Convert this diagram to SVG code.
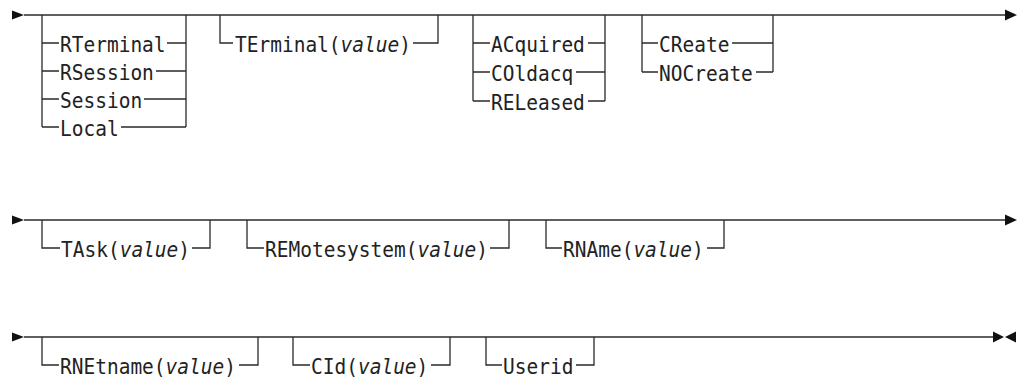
<svg xmlns="http://www.w3.org/2000/svg" width="1019" height="382" viewBox="0 0 1019 382">
<style>
.t{font-family:"DejaVu Sans Mono","Liberation Mono",monospace;font-size:19.5px;fill:#222}
.v{font-style:italic}
.c{stroke:#2a2a2a;stroke-width:1.3;fill:none}
.a{fill:#111}
</style>
<rect width="1019" height="382" fill="#fff"/>
<g id="connectors">
<path class="c" d="M24 15H1006"/>
<path class="c" d="M42 15V127M186 15V127"/>
<path class="c" d="M42 43H59M167 43H186M42 71H59M156 71H186M42 99H59M144 99H186M42 127H59M121 127H186"/>
<path class="c" d="M220 15V43H233M413 43H438V15"/>
<path class="c" d="M473 15V101M605 15V101M473 43H490M588 43H605M473 72H490M576 72H605M473 101H490M588 101H605"/>
<path class="c" d="M642 15V72M773 15V72M642 43H658M732 43H773M642 72H658M756 72H773"/>
<path class="c" d="M24 220H1006"/>
<path class="c" d="M42 220V248H60M192 248H210V220"/>
<path class="c" d="M247 220V248H264M490 248H509V220"/>
<path class="c" d="M546 220V248H562M707 248H724V220"/>
<path class="c" d="M24 337H998"/>
<path class="c" d="M42 337V365H59M239 365H258V337"/>
<path class="c" d="M293 337V365H310M431 365H450V337"/>
<path class="c" d="M486 337V365H502M576 365H594V337"/>
<polygon class="a" points="12,10.5 24,15 12,19.5"/>
<polygon class="a" points="1005,9.5 1017,15 1005,20.5"/>
<polygon class="a" points="12,215.5 24,220 12,224.5"/>
<polygon class="a" points="1005,214.5 1017,220 1005,225.5"/>
<polygon class="a" points="12,332.5 24,337 12,341.5"/>
<polygon class="a" points="993,331.5 1004,337 993,342.5"/>
<polygon class="a" points="1016,331.5 1005,337 1016,342.5"/>
</g>
<g id="n-rterminal"><text class="t" transform="translate(60 52) scale(1 1.12)">RTerminal</text></g>
<g id="n-rsession"><text class="t" transform="translate(60 80) scale(1 1.12)">RSession</text></g>
<g id="n-session"><text class="t" transform="translate(60 108) scale(1 1.12)">Session</text></g>
<g id="n-local"><text class="t" transform="translate(60 136) scale(1 1.12)">Local</text></g>
<g id="n-terminal"><text class="t" transform="translate(235 52) scale(1 1.12)">TErminal(<tspan class="v">value</tspan>)</text></g>
<g id="n-acquired"><text class="t" transform="translate(491 52) scale(1 1.12)">ACquired</text></g>
<g id="n-coldacq"><text class="t" transform="translate(491 81) scale(1 1.12)">COldacq</text></g>
<g id="n-released"><text class="t" transform="translate(491 110) scale(1 1.12)">RELeased</text></g>
<g id="n-create"><text class="t" transform="translate(659 52) scale(1 1.12)">CReate</text></g>
<g id="n-nocreate"><text class="t" transform="translate(659 81) scale(1 1.12)">NOCreate</text></g>
<g id="n-task"><text class="t" transform="translate(61 257) scale(1 1.12)">TAsk(<tspan class="v">value</tspan>)</text></g>
<g id="n-remotesystem"><text class="t" transform="translate(265 257) scale(1 1.12)">REMotesystem(<tspan class="v">value</tspan>)</text></g>
<g id="n-rname"><text class="t" transform="translate(563 257) scale(1 1.12)">RNAme(<tspan class="v">value</tspan>)</text></g>
<g id="n-rnetname"><text class="t" transform="translate(60 374) scale(1 1.12)">RNEtname(<tspan class="v">value</tspan>)</text></g>
<g id="n-cid"><text class="t" transform="translate(311 374) scale(1 1.12)">CId(<tspan class="v">value</tspan>)</text></g>
<g id="n-userid"><text class="t" transform="translate(503 374) scale(1 1.12)">Userid</text></g>
</svg>
